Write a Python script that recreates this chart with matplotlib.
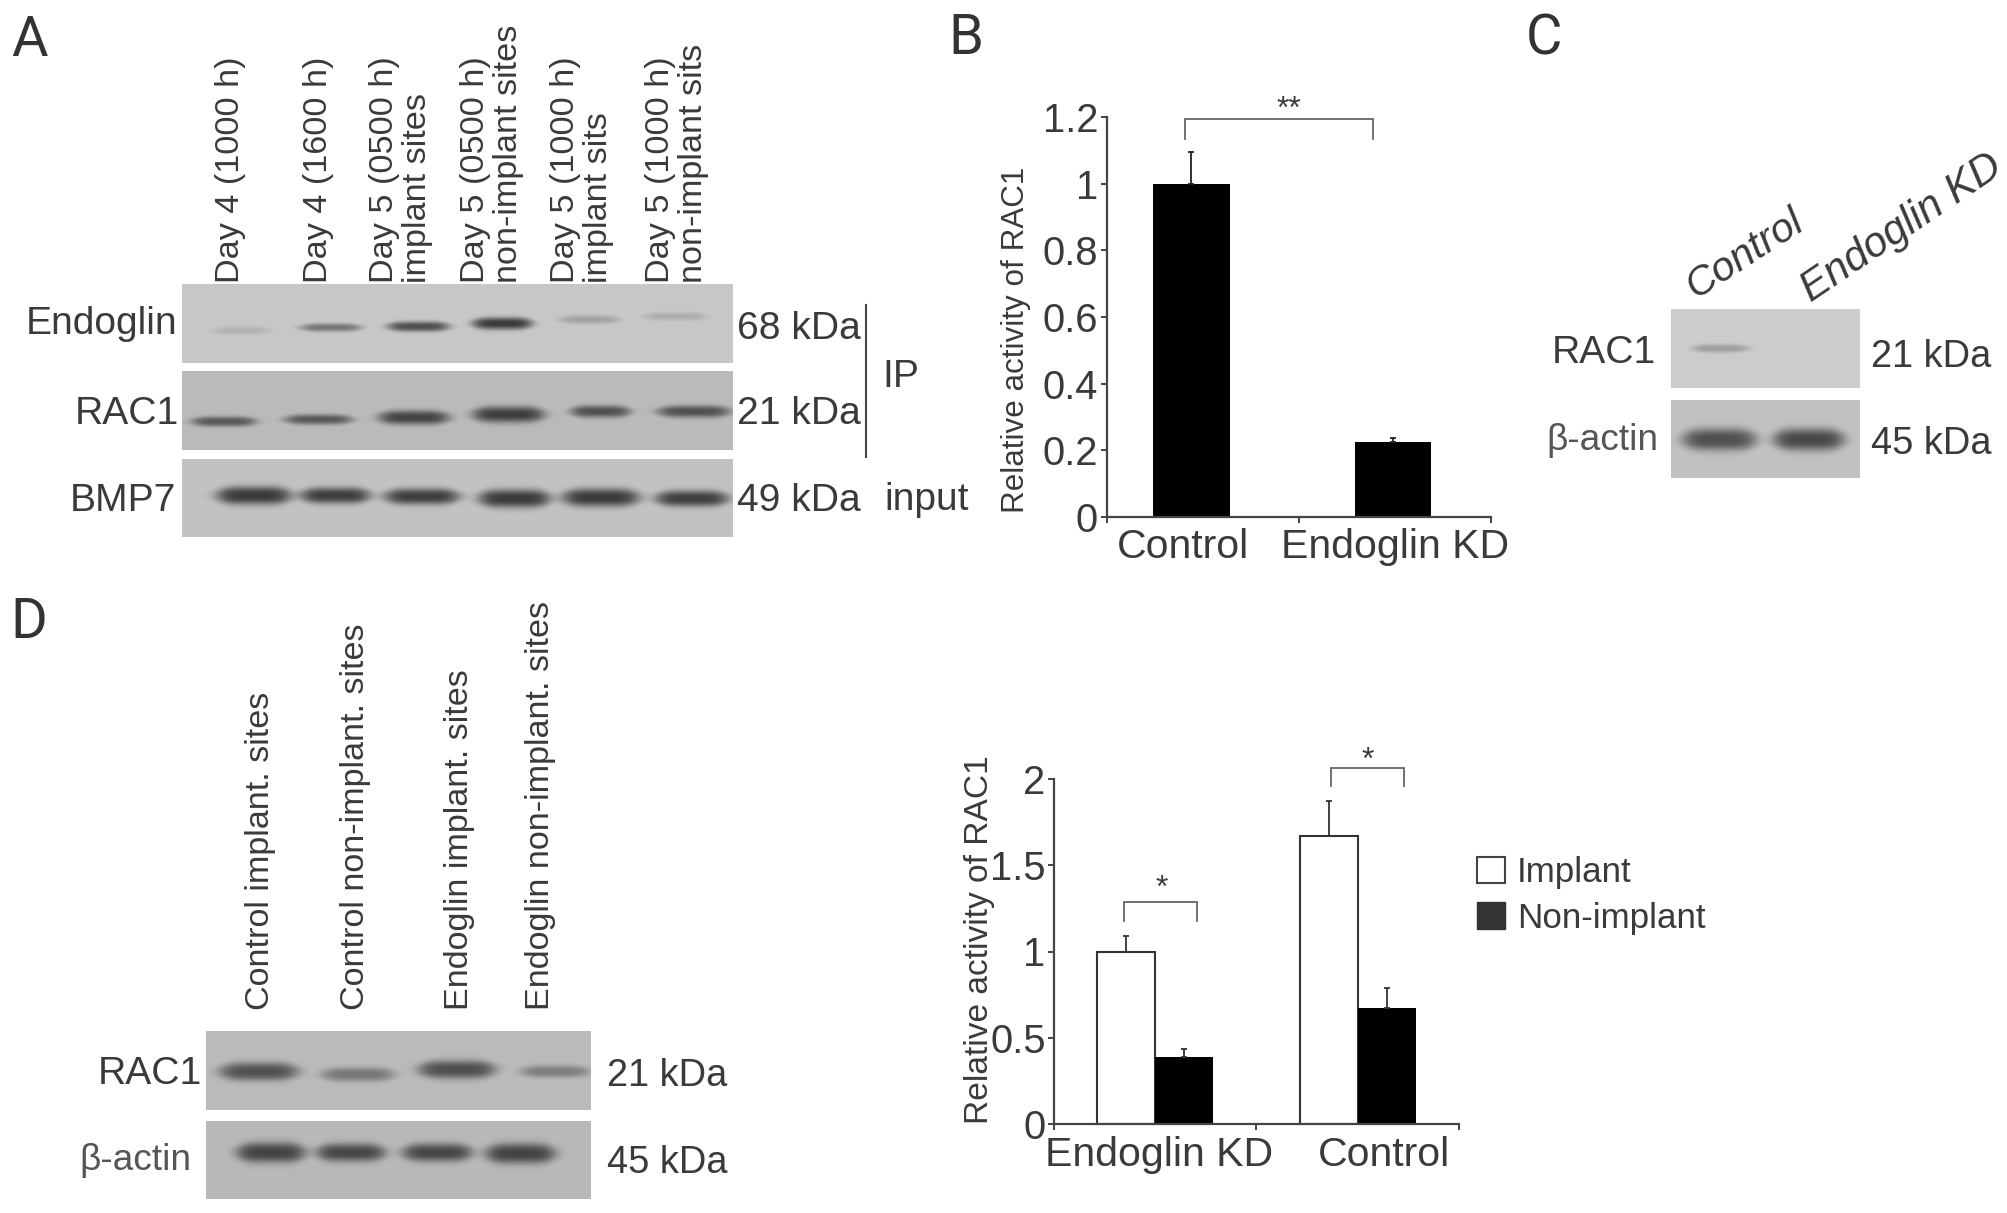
import matplotlib
matplotlib.use('Agg')
import matplotlib.pyplot as plt
from matplotlib.patches import Patch
import numpy as np

plt.rcParams['font.family'] = ['Liberation Sans', 'DejaVu Sans']

W, H = 2008, 1213
INK = '#3a3a3a'

# ── DATA ─────────────────────────────────────────────────────────────────────
b_groups = ['Control', 'Endoglin KD']
b_values = [1.0, 0.225]
b_errors = [0.096, 0.013]
b_yticks = [0, 0.2, 0.4, 0.6, 0.8, 1, 1.2]
b_yticklabels = ['0', '0.2', '0.4', '0.6', '0.8', '1', '1.2']

d_groups = ['Endoglin KD', 'Control']
d_implant = [1.0, 1.67]
d_implant_err = [0.092, 0.2]
d_nonimplant = [0.39, 0.67]
d_nonimplant_err = [0.046, 0.12]
d_yticks = [0, 0.5, 1, 1.5, 2]
d_yticklabels = ['0', '0.5', '1', '1.5', '2']

a_lanes = ['Day 4 (1000 h)', 'Day 4 (1600 h)', 'Day 5 (0500 h)\nimplant sites',
           'Day 5 (0500 h)\nnon-implant sites', 'Day 5 (1000 h)\nimplant sits',
           'Day 5 (1000 h)\nnon-implant sits']
d_lanes = ['Control implant. sites', 'Control non-implant. sites',
           'Endoglin implant. sites', 'Endoglin non-implant. sites']

# band darkness, 0 to 1
a_endoglin = [0.14, 0.55, 0.8, 0.95, 0.25, 0.18]
a_rac1 = [0.72, 0.72, 0.88, 0.92, 0.78, 0.78]
a_bmp7 = [0.95, 0.92, 0.92, 0.95, 0.95, 0.92]
c_rac1 = [0.3, 0.0]
c_actin = [0.8, 0.85]
d_rac1 = [0.78, 0.5, 0.8, 0.45]
d_actin = [0.88, 0.85, 0.85, 0.88]

fig = plt.figure(figsize=(W / 100, H / 100), dpi=100, facecolor='white')
page = fig.add_axes([0, 0, 1, 1], zorder=0)


def pt(px):
    return px * 0.72


def add_axes_px(x0, x1, y_top, y_bottom):
    return fig.add_axes([x0 / W, 1 - y_bottom / H, (x1 - x0) / W, (y_bottom - y_top) / H],
                        facecolor='none', zorder=2)


def label(x, y, s, px=39, ha='left', va='center', color=INK, **kw):
    page.text(x, y, s, fontsize=pt(px), ha=ha, va=va, color=color, **kw)


def blot(box, shade, darkness, x0s, x1s, ycs, thick):
    # box = left, right, top, bottom in page pixels
    left, right, top, bottom = box
    xx, yy = np.meshgrid(np.arange(left, right), np.arange(top, bottom))
    img = np.full(xx.shape, shade, dtype=float)
    for d, a, b, yc, t in zip(darkness, x0s, x1s, ycs, thick):
        mid, half = (a + b) / 2, (b - a) / 2
        u = (xx - mid) / half
        taper = np.exp(-np.abs(u) ** 5)
        prof = np.exp(-np.abs((yy - yc) / (t * (0.55 + 0.45 * taper))) ** 2.6) * taper
        img = img - d * (shade - 0.2) * prof
    page.imshow(img, extent=(left, right, bottom, top), cmap='gray', vmin=0, vmax=1,
                aspect='auto', interpolation='bilinear', zorder=1)


def style_chart(ax, yticks, yticklabels, ylim, groups, group_x, lab_pad):
    ax.set_xlim(0, 2)
    ax.set_ylim(*ylim)
    for s in ['top', 'right']:
        ax.spines[s].set_visible(False)
    for s in ['left', 'bottom']:
        ax.spines[s].set_color('#444444')
        ax.spines[s].set_linewidth(1.6)
    ax.set_yticks(yticks)
    ax.set_yticklabels(yticklabels, fontsize=pt(40), color=INK)
    ax.tick_params(axis='y', length=4, width=1.4, color='#444444', pad=2)
    ax.set_xticks([0, 1, 2])
    ax.set_xticklabels([])
    ax.tick_params(axis='x', which='major', length=4, width=1.4, color='#444444')
    ax.set_xticks(group_x, minor=True)
    ax.set_xticklabels(groups, minor=True, fontsize=pt(41), color=INK)
    ax.tick_params(axis='x', which='minor', length=0, pad=lab_pad)


def bracket(ax, x0, x1, y_low, y_top, star, star_x, star_y):
    ax.plot([x0, x0, x1, x1], [y_low, y_top, y_top, y_low], color='#666666', lw=1.3,
            clip_on=False, solid_joinstyle='miter')
    ax.text(star_x, star_y, star, fontsize=pt(32), ha='center', va='center', color=INK,
            clip_on=False)


# ── PANEL A ──────────────────────────────────────────────────────────────────
blot((182, 733, 284, 363), 0.78, a_endoglin,
     [212, 300, 387, 472, 559, 644], [269, 361, 449, 532, 619, 706],
     [330, 327, 326, 323, 319, 316], [4, 4, 5, 6, 4, 4])
blot((182, 733, 371, 450), 0.73, a_rac1,
     [191, 284, 378, 472, 570, 657], [256, 352, 449, 544, 630, 730],
     [421, 419, 417, 414, 411, 411], [5, 5, 7, 8, 6, 6])
blot((182, 733, 459, 537), 0.76, a_bmp7,
     [216, 300, 384, 478, 562, 655], [291, 370, 459, 550, 639, 728],
     [495, 495, 496, 498, 497, 498], [9, 8, 8, 9, 9, 8])

for x, s in zip([231, 319, 401, 492, 582, 677], a_lanes):
    label(x, 283, s, px=34.3, ha='center', va='bottom', rotation=90, multialignment='left',
          linespacing=1.1)

label(177, 324, 'Endoglin', ha='right')
label(179, 414, 'RAC1', ha='right')
label(176, 501, 'BMP7', ha='right')
label(737, 329, '68 kDa')
label(737, 414, '21 kDa')
label(737, 501, '49 kDa')
page.plot([866, 866], [305, 457], color='#444444', lw=1.5)
label(882, 377, 'IP')
label(884, 500, 'input')

# ── PANEL B ──────────────────────────────────────────────────────────────────
ax_b = add_axes_px(1106.5, 1491, 117, 517)
ax_b.bar([0.44, 1.49], b_values, width=0.4, color='black')
ax_b.errorbar([0.44, 1.49], b_values, yerr=[[0, 0], b_errors], fmt='none', ecolor='#222222',
              elinewidth=1.3, capsize=2.5, capthick=1.3)
style_chart(ax_b, b_yticks, b_yticklabels, (0, 1.2), b_groups, [0.4, 1.5], 8)
ax_b.set_ylabel('Relative activity of RAC1', fontsize=pt(31.4), color=INK)
ax_b.yaxis.set_label_coords(-0.197, 0.444)
bracket(ax_b, 0.41, 1.386, 1.134, 1.194, '**', 0.95, 1.221)

# ── PANEL C ──────────────────────────────────────────────────────────────────
blot((1671, 1860, 309, 388), 0.8, c_rac1, [1692, 1790], [1748, 1840], [348, 348], [4, 4])
blot((1671, 1860, 400, 478), 0.76, c_actin, [1682, 1773], [1756, 1844], [439, 439], [11, 11])
label(1700, 306, 'Control', px=41, va='bottom', rotation=33, rotation_mode='anchor', style='italic')
label(1816, 310, 'Endoglin KD', px=42, va='bottom', rotation=34, rotation_mode='anchor', style='italic')
label(1656, 353, 'RAC1', ha='right')
label(1658, 440, 'β-actin', px=37, ha='right', color='#555555')
label(1871, 357, '21 kDa', px=38)
label(1871, 444, '45 kDa', px=38)

# ── PANEL D ──────────────────────────────────────────────────────────────────
blot((206, 591, 1031, 1110), 0.73, d_rac1,
     [219, 321, 418, 520], [298, 394, 495, 589], [1071, 1074, 1069, 1071], [9, 7, 9, 6])
blot((206, 591, 1121, 1199), 0.72, d_actin,
     [236, 316, 402, 485], [305, 385, 472, 555], [1152, 1152, 1152, 1153], [10, 9, 9, 10])
for x, s in zip([261, 356, 460, 541], d_lanes):
    label(x, 1010, s, px=34.2, ha='center', va='bottom', rotation=90)
label(202, 1074, 'RAC1', ha='right')
label(191, 1161, 'β-actin', px=37, ha='right', color='#555555')
label(607, 1076, '21 kDa', px=38)
label(607, 1163, '45 kDa', px=38)

ax_d = add_axes_px(1054, 1459, 779, 1124)
centers = np.array([0.5, 1.5])
bw = 0.286
ax_d.bar(centers - bw / 2, d_implant, width=bw, facecolor='white', edgecolor='#333333',
         linewidth=1.5, label='Implant')
ax_d.bar(centers + bw / 2, d_nonimplant, width=bw, color='black', label='Non-implant')
ax_d.errorbar(centers - bw / 2, d_implant, yerr=[[0, 0], d_implant_err], fmt='none',
              ecolor='#333333', elinewidth=1.3, capsize=2.5, capthick=1.3)
ax_d.errorbar(centers + bw / 2, d_nonimplant, yerr=[[0, 0], d_nonimplant_err], fmt='none',
              ecolor='#333333', elinewidth=1.3, capsize=2.5, capthick=1.3)
style_chart(ax_d, d_yticks, d_yticklabels, (0, 2), d_groups, [0.52, 1.63], 9)
ax_d.set_ylabel('Relative activity of RAC1', fontsize=pt(33.5), color=INK)
ax_d.yaxis.set_label_coords(-0.145, 0.533)
bracket(ax_d, 0.346, 0.706, 1.177, 1.287, '*', 0.53, 1.365)
bracket(ax_d, 1.37, 1.726, 1.959, 2.064, '*', 1.55, 2.107)

handles = [Patch(facecolor='white', edgecolor='#444444', linewidth=1.5, label='Implant'),
           Patch(facecolor='#333333', edgecolor='#333333', label='Non-implant')]
fig.legend(handles=handles, loc='upper left', bbox_to_anchor=(1477 / W, 1 - 856 / H),
           frameon=False, fontsize=pt(35), labelcolor=INK, borderpad=0, borderaxespad=0,
           handlelength=0.8, handleheight=0.78, handletextpad=0.35, labelspacing=0.36)

# ── PANEL LETTERS ────────────────────────────────────────────────────────────
for x, y, s in [(11, 40, 'A'), (948, 39, 'B'), (1526, 39, 'C'), (10, 622, 'D')]:
    page.text(x, y, s, fontsize=pt(56), ha='left', va='center', color='#333333',
              family='Roboto')

page.set_xlim(0, W)
page.set_ylim(H, 0)
page.axis('off')

fig.savefig('out.png', dpi=100)
